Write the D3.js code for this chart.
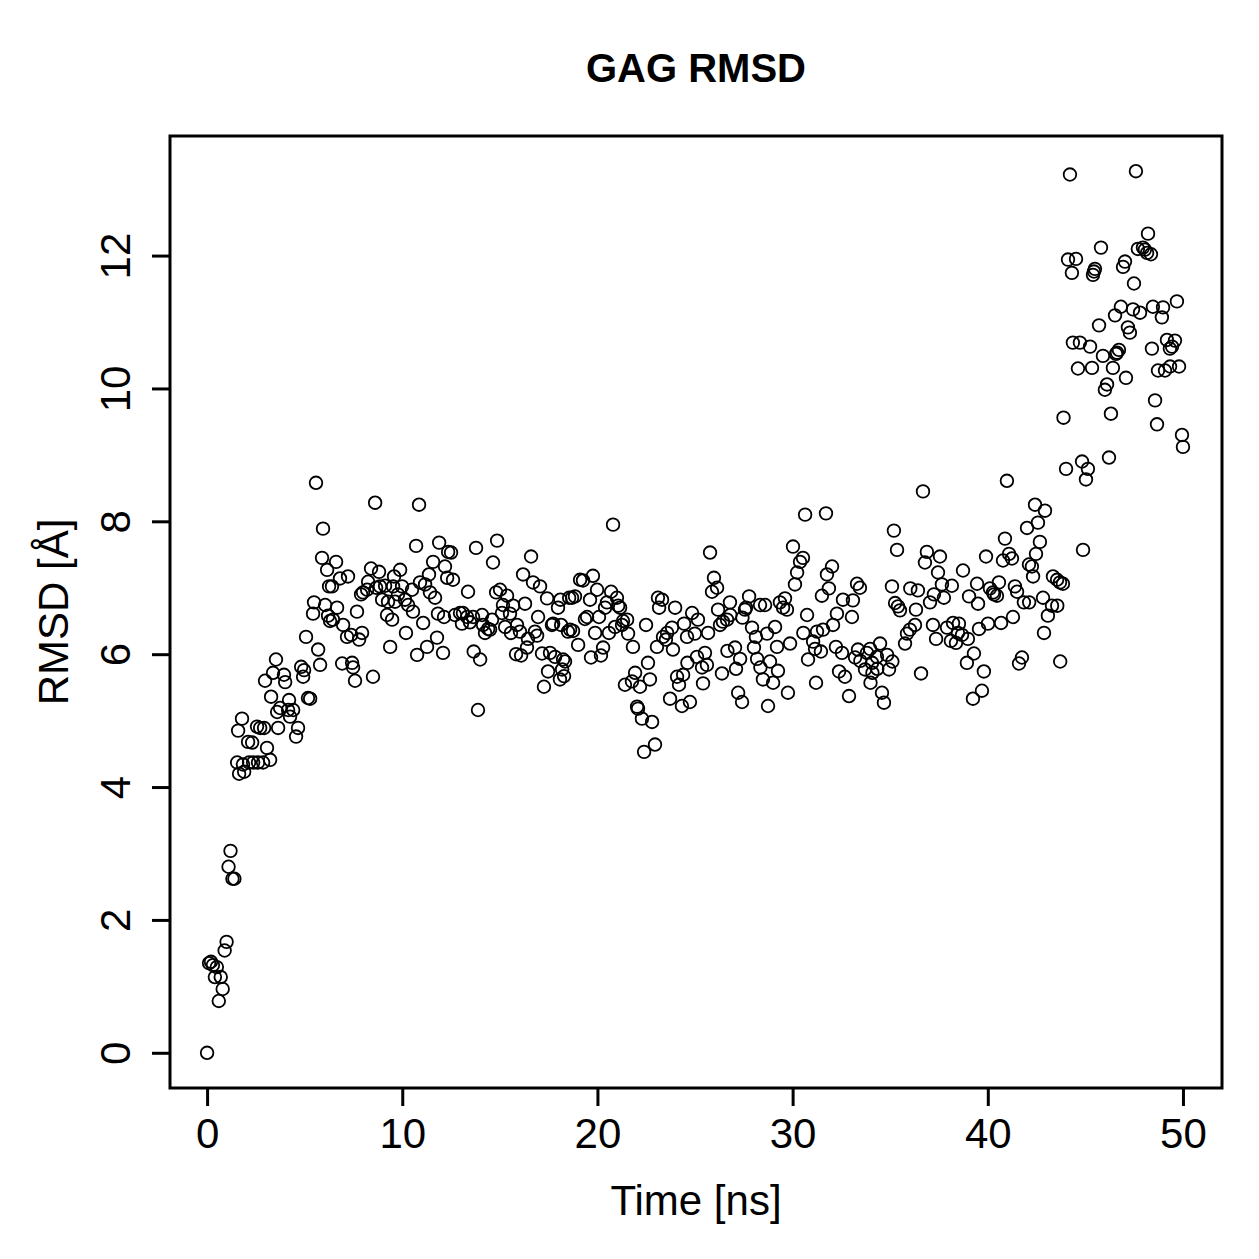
<!DOCTYPE html>
<html>
<head>
<meta charset="utf-8">
<script src="https://cdn.jsdelivr.net/npm/d3@7"></script>
<style>
  body { margin: 0; background: #fff; }
</style>
</head>
<body>
<div id="chart"></div>
<script>
// Labels and ticks
const chartTitle = 'GAG RMSD'
const xLabel = 'Time [ns]'
const yLabel = 'RMSD [Å]'
const xTicks = [0, 10, 20, 30, 40, 50]
const yTicks = [0, 2, 4, 6, 8, 10, 12]

// [time (ns), RMSD (Å)]
const riseSeries = [
  [0.00, 0.00], [0.10, 1.35], [0.20, 1.37], [0.30, 1.32], [0.40, 1.14], [0.50, 1.29], [0.60, 0.78], [0.70, 1.14], [0.80, 0.96], [0.90, 1.54],
  [1.00, 1.67], [1.10, 2.80], [1.20, 3.04], [1.30, 2.62], [1.40, 2.62], [1.54, 4.37], [1.59, 4.85], [1.64, 4.20], [1.79, 5.03], [1.84, 4.34],
  [1.90, 4.23], [2.10, 4.68], [2.15, 4.37], [2.31, 4.67], [2.36, 4.37], [2.56, 4.91], [2.61, 4.37], [2.72, 4.89], [2.87, 4.37], [2.92, 4.89],
  [2.97, 5.60], [3.07, 4.59], [3.23, 4.41], [3.28, 5.36], [3.38, 5.72], [3.53, 5.92], [3.59, 5.13], [3.64, 4.89], [3.74, 5.19], [3.94, 5.69],
  [4.00, 5.58], [4.15, 5.16], [4.20, 5.31], [4.25, 5.06], [4.41, 5.16], [4.56, 4.76], [4.66, 4.89], [4.82, 5.81], [4.92, 5.66], [4.97, 5.76],
  [5.07, 6.26], [5.17, 5.34], [5.28, 5.33], [5.43, 6.61], [5.48, 6.78], [5.58, 8.58], [5.69, 6.07], [5.79, 5.84], [5.89, 7.45], [5.94, 7.89],
  [6.05, 6.74], [6.15, 7.27], [6.20, 6.58], [6.25, 7.02], [6.30, 6.50]
]

const plateauSeries = [
  [6.40, 7.02], [6.45, 6.52], [6.61, 7.39], [6.66, 6.70], [6.81, 7.14], [6.92, 5.86], [6.97, 6.44], [7.17, 6.26], [7.22, 7.17], [7.38, 6.29],
  [7.43, 5.87], [7.48, 5.80], [7.58, 5.60], [7.68, 6.64], [7.79, 6.22], [7.89, 6.90], [7.94, 6.32], [7.99, 6.93], [8.20, 6.97], [8.25, 7.09],
  [8.40, 7.29], [8.50, 5.66], [8.61, 8.28], [8.66, 7.00], [8.81, 7.24], [8.86, 7.02], [8.97, 6.82], [9.12, 7.03], [9.22, 6.59], [9.27, 6.79],
  [9.38, 6.11], [9.48, 6.52], [9.53, 7.02], [9.58, 7.17], [9.63, 6.79], [9.78, 6.90], [9.89, 7.27], [9.99, 7.02], [10.14, 6.82], [10.19, 6.32],
  [10.30, 6.74], [10.50, 6.97], [10.55, 6.64], [10.71, 7.63], [10.76, 5.99], [10.86, 8.25], [10.91, 7.08], [11.07, 6.47], [11.17, 7.05], [11.27, 6.11],
  [11.37, 7.20], [11.42, 6.93], [11.58, 7.39], [11.68, 6.85], [11.78, 6.25], [11.83, 6.61], [11.89, 7.68], [12.09, 6.02], [12.14, 6.56], [12.19, 7.32],
  [12.30, 7.15], [12.35, 7.54], [12.50, 7.53], [12.60, 7.12], [12.70, 6.59], [12.96, 6.62], [13.06, 6.46], [13.11, 6.62], [13.32, 6.56], [13.37, 6.94],
  [13.47, 6.48], [13.63, 6.56], [13.66, 6.04], [13.78, 7.60], [13.88, 5.16], [13.99, 5.92], [14.09, 6.59], [14.14, 6.44], [14.24, 6.32], [14.40, 6.38],
  [14.50, 6.37], [14.60, 6.52], [14.65, 7.38], [14.81, 6.93], [14.86, 7.71], [15.01, 6.97], [15.11, 6.62], [15.16, 6.74], [15.27, 6.41], [15.37, 6.88],
  [15.52, 6.61], [15.57, 6.32], [15.68, 6.73], [15.83, 6.00], [15.88, 6.44], [16.03, 6.34], [16.09, 5.98], [16.19, 7.20], [16.29, 6.76], [16.39, 6.10],
  [16.44, 6.23], [16.60, 7.47], [16.70, 7.08], [16.80, 6.34], [16.91, 6.28], [16.96, 6.56], [17.06, 7.02], [17.16, 6.01], [17.26, 5.51], [17.42, 6.84],
  [17.47, 5.74], [17.57, 6.02], [17.67, 6.44], [17.73, 6.46], [17.83, 5.96], [17.98, 6.70], [18.08, 5.62], [18.10, 6.82], [18.14, 6.44], [18.19, 5.77],
  [18.24, 5.92], [18.29, 5.67], [18.34, 5.89], [18.49, 6.34], [18.55, 6.85], [18.60, 6.37], [18.70, 6.85], [18.75, 6.35], [18.85, 6.87], [19.01, 6.14],
  [19.11, 7.12], [19.26, 7.11], [19.36, 6.53], [19.47, 6.56], [19.62, 6.82], [19.67, 5.95], [19.77, 7.18], [19.88, 6.32], [19.98, 6.97], [20.08, 6.56],
  [20.18, 5.98], [20.29, 6.10], [20.39, 6.70], [20.49, 6.78], [20.59, 6.32], [20.70, 6.94], [20.80, 7.95], [20.90, 6.41], [21.00, 6.85], [21.06, 6.73],
  [21.16, 6.70], [21.26, 6.44], [21.31, 6.50], [21.41, 5.54], [21.52, 6.52], [21.57, 6.31], [21.77, 5.59], [21.82, 6.11], [21.93, 5.72], [22.03, 5.21],
  [22.08, 5.18], [22.18, 5.51], [22.28, 5.03], [22.39, 4.53], [22.49, 6.44], [22.59, 5.87], [22.69, 5.62], [22.80, 4.98], [22.95, 4.64], [23.05, 6.11],
  [23.10, 6.85], [23.16, 6.70], [23.31, 6.82], [23.36, 6.26], [23.51, 6.22], [23.57, 6.32], [23.72, 5.33], [23.82, 6.40], [23.87, 6.07], [23.98, 6.70],
  [24.08, 5.66], [24.18, 5.54], [24.33, 5.22], [24.39, 5.69], [24.44, 6.46], [24.59, 6.26], [24.61, 5.87], [24.74, 5.28], [24.85, 6.62], [24.99, 6.31],
  [25.10, 5.96], [25.15, 6.52], [25.36, 5.80], [25.41, 5.56], [25.51, 6.02], [25.61, 5.84], [25.67, 6.32], [25.77, 7.53], [25.87, 6.94], [25.97, 7.15],
  [26.13, 7.00], [26.18, 6.67], [26.28, 6.44], [26.38, 5.71], [26.43, 6.49], [26.64, 6.52], [26.66, 6.05], [26.79, 6.78], [26.81, 6.59], [27.05, 6.10],
  [27.10, 5.78], [27.21, 5.42], [27.31, 5.93], [27.41, 5.28], [27.43, 6.55], [27.56, 6.67], [27.61, 6.70], [27.77, 6.87], [27.92, 6.40], [28.02, 6.10],
  [28.12, 6.26], [28.18, 5.93], [28.33, 6.74], [28.35, 5.80], [28.48, 5.62], [28.59, 6.74], [28.69, 6.31], [28.74, 5.22], [28.84, 5.89], [29.00, 5.57],
  [29.10, 6.41], [29.20, 6.11], [29.25, 5.75], [29.35, 6.78], [29.51, 6.70], [29.61, 6.84], [29.71, 6.67], [29.76, 5.42], [29.87, 6.16], [30.02, 7.62],
  [30.12, 7.05], [30.23, 7.23], [30.38, 7.39], [30.53, 7.45], [30.55, 6.32], [30.64, 8.10], [30.74, 6.59], [30.79, 5.92], [31.05, 6.19], [31.15, 6.08],
  [31.20, 5.57], [31.25, 6.34], [31.45, 6.04], [31.50, 6.88], [31.56, 6.37], [31.71, 8.12], [31.76, 7.20], [31.86, 6.99], [32.02, 7.32], [32.07, 6.44],
  [32.22, 6.11], [32.27, 6.61], [32.38, 5.74], [32.53, 6.02], [32.58, 6.82], [32.68, 5.66], [32.89, 5.37], [33.04, 6.56], [33.09, 6.81], [33.20, 5.95],
  [33.30, 7.06], [33.35, 6.07], [33.45, 7.00], [33.47, 5.90], [33.71, 5.77], [33.81, 6.02], [33.97, 6.08], [33.99, 5.57], [34.07, 5.87], [34.09, 5.72],
  [34.32, 5.96], [34.34, 5.78], [34.48, 6.16], [34.58, 5.42], [34.68, 5.27], [34.84, 5.99], [34.94, 5.77], [35.09, 7.02], [35.11, 5.89], [35.19, 7.86],
  [35.25, 6.77], [35.35, 7.57], [35.40, 6.72], [35.50, 6.66], [35.76, 6.16], [35.86, 6.31], [36.01, 6.37], [36.03, 6.99], [36.27, 6.44], [36.32, 6.67],
  [36.42, 6.96], [36.58, 5.71], [36.68, 8.45], [36.78, 7.38], [36.88, 7.54], [37.04, 6.78], [37.19, 6.44], [37.24, 6.90], [37.35, 6.23], [37.45, 7.23],
  [37.55, 7.47], [37.65, 7.05], [37.75, 6.85], [37.91, 6.40], [38.11, 6.20], [38.16, 7.03], [38.22, 6.47], [38.37, 6.17], [38.47, 6.32], [38.52, 6.46],
  [38.68, 6.29], [38.73, 7.26], [38.93, 5.87], [38.98, 6.23], [39.04, 6.87], [39.24, 5.33], [39.29, 6.01], [39.45, 7.06], [39.50, 6.76], [39.55, 6.38],
  [39.70, 5.45], [39.80, 5.74], [39.91, 7.47], [40.01, 6.46], [40.11, 6.99], [40.27, 6.93], [40.32, 6.90], [40.47, 6.88], [40.57, 7.08], [40.68, 6.47],
  [40.78, 7.41], [40.88, 7.74], [40.98, 8.61], [41.09, 7.51], [41.24, 7.44], [41.29, 6.56], [41.39, 7.02], [41.50, 6.94], [41.60, 5.86], [41.75, 5.95],
  [41.85, 6.78], [42.01, 7.90], [42.11, 7.35], [42.12, 6.78], [42.26, 7.32], [42.32, 7.17], [42.42, 8.25], [42.47, 7.51], [42.57, 7.98], [42.67, 7.69],
  [42.83, 6.85], [42.88, 6.32], [42.93, 8.16], [43.08, 6.58], [43.29, 6.73], [43.34, 7.17], [43.55, 7.12], [43.56, 6.73], [43.70, 7.08], [43.71, 5.89],
  [43.85, 7.06]
]

const jumpSeries = [
  [43.88, 9.56], [44.01, 8.79], [44.11, 11.94], [44.21, 13.22], [44.31, 11.74], [44.36, 10.69], [44.52, 11.95], [44.62, 10.30], [44.72, 10.69], [44.83, 8.90],
  [44.88, 7.57], [45.03, 8.63], [45.13, 8.79], [45.24, 10.63], [45.34, 10.31], [45.39, 11.71], [45.44, 11.76], [45.49, 11.80], [45.70, 10.95], [45.80, 12.12],
  [45.90, 10.49], [46.00, 9.98], [46.11, 10.06], [46.21, 8.96], [46.31, 9.62], [46.41, 10.31], [46.52, 11.10], [46.57, 10.52], [46.62, 10.54], [46.72, 10.58],
  [46.82, 11.23], [46.93, 11.83], [47.03, 11.91], [47.08, 10.16], [47.18, 10.92], [47.28, 10.84], [47.44, 11.19], [47.49, 11.58], [47.59, 13.27], [47.69, 12.10],
  [47.80, 11.14], [47.95, 12.12], [48.05, 12.09], [48.16, 12.04], [48.21, 12.33], [48.36, 12.02], [48.41, 10.60], [48.46, 11.23], [48.57, 9.82], [48.67, 9.46],
  [48.72, 10.27], [48.92, 11.07], [48.98, 11.22], [49.08, 10.27], [49.18, 10.73], [49.33, 10.60], [49.34, 10.33], [49.44, 10.63], [49.59, 10.72], [49.69, 11.31],
  [49.80, 10.33], [49.95, 9.30], [50.00, 9.12]
]

const points = riseSeries.concat(plateauSeries, jumpSeries)

// Layout
const totalW = 1259
const totalH = 1259
const box = { left: 170, right: 1222, top: 136, bottom: 1088 }
const font = "'Liberation Sans', Arial, Helvetica, sans-serif"

const svg = d3.select('#chart').append('svg')
  .attr('width', totalW)
  .attr('height', totalH)
  .style('background', '#fff')

const x = d3.scaleLinear().domain([-1.9, 52]).range([box.left, box.right])
const y = d3.scaleLinear().domain([-0.53, 13.8]).range([box.bottom, box.top])

// Points
svg.append('g')
  .selectAll('circle')
  .data(points)
  .enter()
  .append('circle')
  .attr('cx', d => x(d[0]))
  .attr('cy', d => y(d[1]))
  .attr('r', 6.3)
  .attr('fill', 'none')
  .attr('stroke', '#000')
  .attr('stroke-width', 1.8)

// Axes
const xAxis = svg.append('g')
  .attr('transform', `translate(0, ${box.bottom})`)
  .call(d3.axisBottom(x).tickValues(xTicks).tickSize(18).tickPadding(12).tickFormat(d3.format('d')))
xAxis.select('.domain').remove()
xAxis.selectAll('line').attr('stroke-width', 3)
xAxis.selectAll('text')
  .style('font-family', font)
  .style('font-size', '42px')
  .attr('fill', '#000')

const yAxis = svg.append('g')
  .attr('transform', `translate(${box.left}, 0)`)
  .call(d3.axisLeft(y).tickValues(yTicks).tickSize(18).tickFormat(d3.format('d')))
yAxis.select('.domain').remove()
yAxis.selectAll('line').attr('stroke-width', 3)
yAxis.selectAll('text')
  .attr('transform', 'rotate(-90)')
  .attr('x', 0)
  .attr('y', -40)
  .attr('dy', 0)
  .attr('text-anchor', 'middle')
  .style('font-family', font)
  .style('font-size', '42px')
  .attr('fill', '#000')

// Frame
svg.append('rect')
  .attr('x', box.left)
  .attr('y', box.top)
  .attr('width', box.right - box.left)
  .attr('height', box.bottom - box.top)
  .attr('fill', 'none')
  .attr('stroke', '#000')
  .attr('stroke-width', 3)

// Titles
svg.append('text')
  .attr('x', (box.left + box.right) / 2)
  .attr('y', 82)
  .attr('text-anchor', 'middle')
  .style('font-family', font)
  .style('font-size', '40px')
  .style('font-weight', 'bold')
  .text(chartTitle)

svg.append('text')
  .attr('x', (box.left + box.right) / 2)
  .attr('y', 1215)
  .attr('text-anchor', 'middle')
  .style('font-family', font)
  .style('font-size', '42px')
  .text(xLabel)

svg.append('text')
  .attr('transform', `translate(68, ${(box.top + box.bottom) / 2}) rotate(-90)`)
  .attr('text-anchor', 'middle')
  .style('font-family', font)
  .style('font-size', '42px')
  .text(yLabel)
</script>
</body>
</html>
